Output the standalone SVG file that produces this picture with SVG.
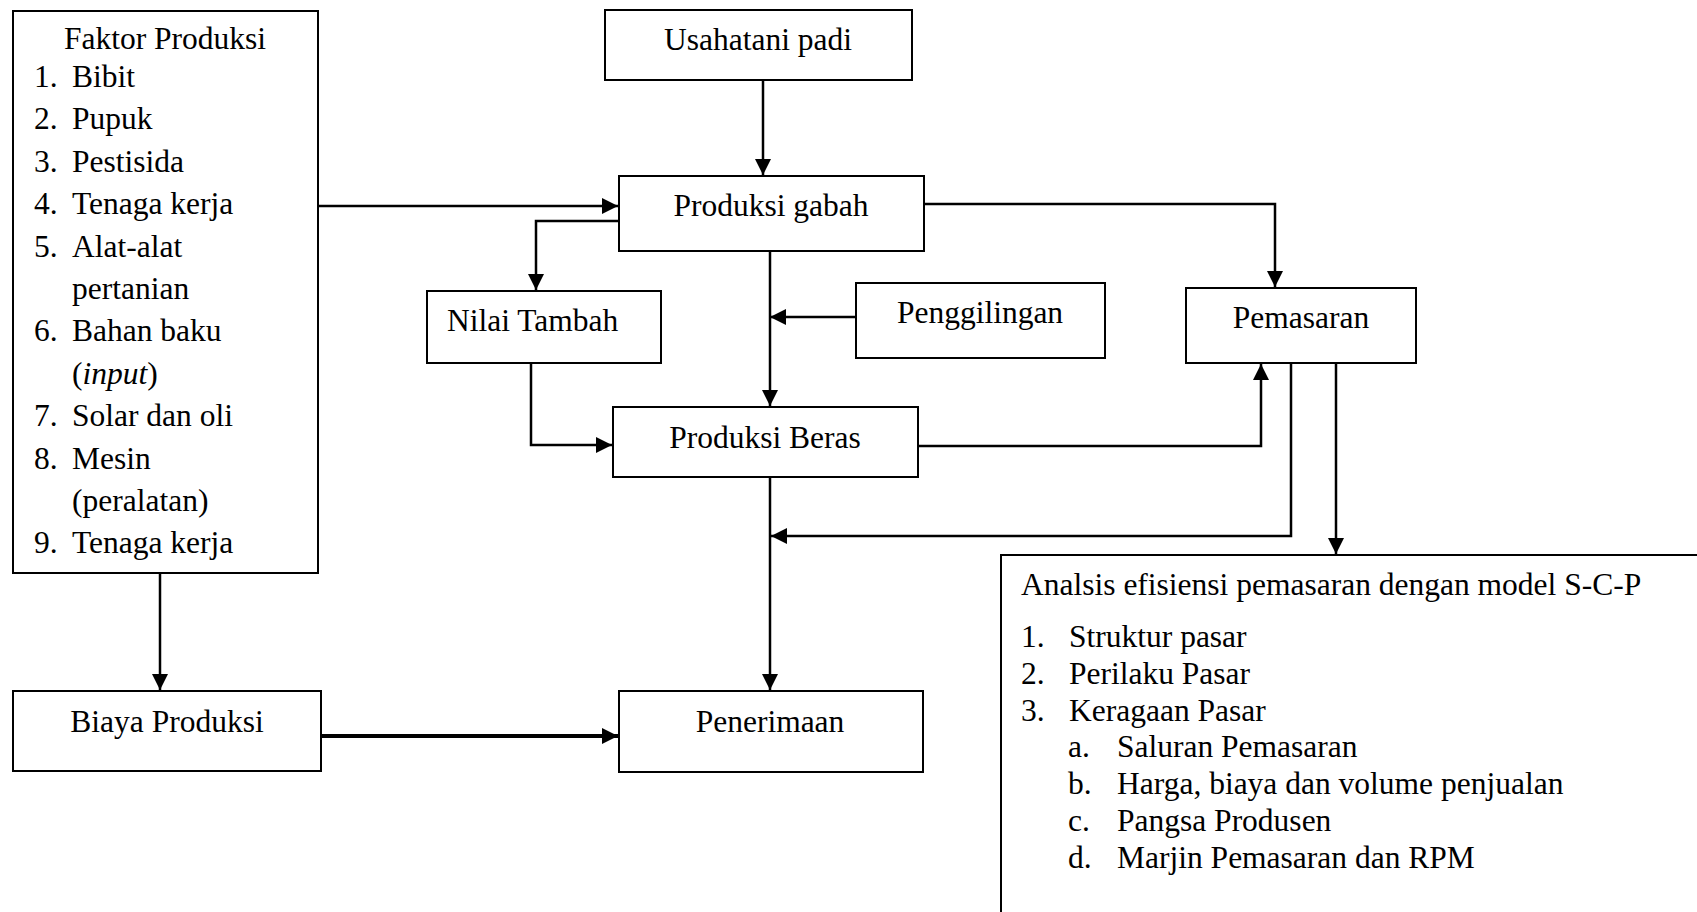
<svg xmlns="http://www.w3.org/2000/svg" width="1697" height="912" viewBox="0 0 1697 912">
<style>
.box{fill:#fff;stroke:#000;stroke-width:2}
.t{font-family:"Liberation Serif","Times New Roman",serif;font-size:31.5px;fill:#000}
.c{text-anchor:middle}
.ln{fill:none;stroke:#000;stroke-width:2.5}
.bold{stroke-width:4}
</style>
<defs>
<marker id="ah" markerUnits="userSpaceOnUse" markerWidth="18" markerHeight="18" refX="16" refY="8" orient="auto">
<path d="M0,0 L16,8 L0,16 z" fill="#000"/>
</marker>
</defs>
<rect width="1697" height="912" fill="#fff"/>

<g id="faktor-produksi">
<rect class="box" x="13" y="11" width="305" height="562"/>
<text class="t c" x="165" y="49">Faktor Produksi</text>
<text class="t" x="34" y="87">1.</text><text class="t" x="72" y="87">Bibit</text>
<text class="t" x="34" y="129.4">2.</text><text class="t" x="72" y="129.4">Pupuk</text>
<text class="t" x="34" y="171.8">3.</text><text class="t" x="72" y="171.8">Pestisida</text>
<text class="t" x="34" y="214.2">4.</text><text class="t" x="72" y="214.2">Tenaga kerja</text>
<text class="t" x="34" y="256.6">5.</text><text class="t" x="72" y="256.6">Alat-alat</text>
<text class="t" x="72" y="299">pertanian</text>
<text class="t" x="34" y="341.4">6.</text><text class="t" x="72" y="341.4">Bahan baku</text>
<text class="t" x="72" y="383.8">(<tspan font-style="italic">input</tspan>)</text>
<text class="t" x="34" y="426.2">7.</text><text class="t" x="72" y="426.2">Solar dan oli</text>
<text class="t" x="34" y="468.6">8.</text><text class="t" x="72" y="468.6">Mesin</text>
<text class="t" x="72" y="511">(peralatan)</text>
<text class="t" x="34" y="553.4">9.</text><text class="t" x="72" y="553.4">Tenaga kerja</text>
</g>

<g id="usahatani-padi">
<rect class="box" x="605" y="10" width="307" height="70"/>
<text class="t c" x="758" y="50">Usahatani padi</text>
</g>

<g id="produksi-gabah">
<rect class="box" x="619" y="176" width="305" height="75"/>
<text class="t c" x="771" y="216">Produksi gabah</text>
</g>

<g id="nilai-tambah">
<rect class="box" x="427" y="291" width="234" height="72"/>
<text class="t" x="447" y="331">Nilai Tambah</text>
</g>

<g id="penggilingan">
<rect class="box" x="856" y="283" width="249" height="75"/>
<text class="t c" x="980" y="323">Penggilingan</text>
</g>

<g id="pemasaran">
<rect class="box" x="1186" y="288" width="230" height="75"/>
<text class="t c" x="1301" y="328">Pemasaran</text>
</g>

<g id="produksi-beras">
<rect class="box" x="613" y="407" width="305" height="70"/>
<text class="t c" x="765" y="448">Produksi Beras</text>
</g>

<g id="biaya-produksi">
<rect class="box" x="13" y="691" width="308" height="80"/>
<text class="t c" x="167" y="732">Biaya Produksi</text>
</g>

<g id="penerimaan">
<rect class="box" x="619" y="691" width="304" height="81"/>
<text class="t c" x="770" y="732">Penerimaan</text>
</g>

<g id="analisis-scp">
<rect class="box" x="1001" y="555" width="800" height="450"/>
<text class="t" x="1021" y="595">Analsis efisiensi pemasaran dengan model S-C-P</text>
<text class="t" x="1021" y="647">1.</text><text class="t" x="1069" y="647">Struktur pasar</text>
<text class="t" x="1021" y="684">2.</text><text class="t" x="1069" y="684">Perilaku Pasar</text>
<text class="t" x="1021" y="721">3.</text><text class="t" x="1069" y="721">Keragaan Pasar</text>
<text class="t" x="1068" y="757">a.</text><text class="t" x="1117" y="757">Saluran Pemasaran</text>
<text class="t" x="1068" y="794">b.</text><text class="t" x="1117" y="794">Harga, biaya dan volume penjualan</text>
<text class="t" x="1068" y="831">c.</text><text class="t" x="1117" y="831">Pangsa Produsen</text>
<text class="t" x="1068" y="868">d.</text><text class="t" x="1117" y="868">Marjin Pemasaran dan RPM</text>
</g>

<g id="connectors">
<path class="ln" d="M763,80 L763,175" marker-end="url(#ah)"/>
<path class="ln" d="M318,206 L618,206" marker-end="url(#ah)"/>
<path class="ln" d="M619,221 L536,221 L536,290" marker-end="url(#ah)"/>
<path class="ln" d="M531,363 L531,445 L612,445" marker-end="url(#ah)"/>
<path class="ln" d="M770,251 L770,406" marker-end="url(#ah)"/>
<path class="ln" d="M856,317 L770,317" marker-end="url(#ah)"/>
<path class="ln" d="M924,204 L1275,204 L1275,287" marker-end="url(#ah)"/>
<path class="ln" d="M918,446 L1261,446 L1261,364" marker-end="url(#ah)"/>
<path class="ln" d="M1291,363 L1291,536 L771,536" marker-end="url(#ah)"/>
<path class="ln" d="M1336,363 L1336,554" marker-end="url(#ah)"/>
<path class="ln" d="M770,477 L770,690" marker-end="url(#ah)"/>
<path class="ln" d="M160,573 L160,690" marker-end="url(#ah)"/>
<path class="ln bold" d="M321,736 L618,736" marker-end="url(#ah)"/>
</g>
</svg>
